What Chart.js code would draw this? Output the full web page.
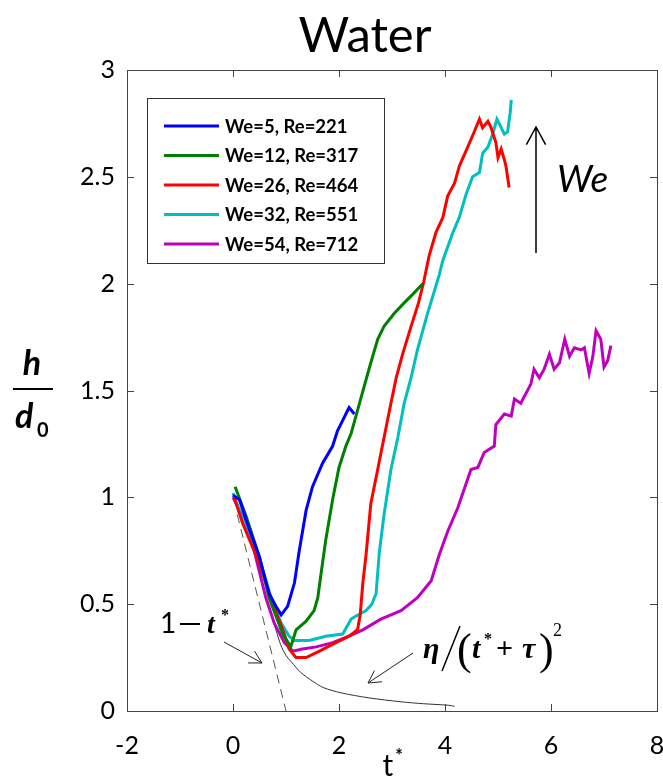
<!DOCTYPE html>
<html>
<head>
<meta charset="utf-8">
<script src="https://cdn.jsdelivr.net/npm/chart.js@4.4.1/dist/chart.umd.min.js"></script>
<style>
  html, body { margin: 0; padding: 0; background: #fff; }
</style>
</head>
<body>
<canvas id="c" width="663" height="777"></canvas>
<script>
// tick values
const xTicks = [-2, 0, 2, 4, 6, 8];
const yTicks = [0, 0.5, 1, 1.5, 2, 2.5, 3];

// legend labels
const labels = ['We=5, Re=221', 'We=12, Re=317', 'We=26, Re=464', 'We=32, Re=551', 'We=54, Re=712'];
const colors = ['#0000ff', '#008000', '#ff0000', '#00bfbf', '#bf00bf'];

// t* / h/d0
const tBlue = [0, 0.12, 0.31, 0.50, 0.68, 0.81, 0.91, 1.03, 1.16, 1.25, 1.38, 1.50, 1.69, 1.88, 1.97, 2.07, 2.19, 2.29];
const hBlue = [1.01, 0.99, 0.85, 0.72, 0.55, 0.49, 0.45, 0.49, 0.60, 0.75, 0.94, 1.05, 1.16, 1.24, 1.31, 1.36, 1.42, 1.39];

const tGreen = [0.04, 0.25, 0.5, 0.68, 0.94, 1.09, 1.19, 1.38, 1.53, 1.60, 1.66, 1.75, 1.88, 2.0, 2.13, 2.23, 2.32, 2.42, 2.60, 2.73, 2.85, 3.04, 3.23, 3.39, 3.58];
const hGreen = [1.05, 0.91, 0.72, 0.53, 0.36, 0.30, 0.38, 0.42, 0.47, 0.53, 0.64, 0.80, 0.99, 1.14, 1.24, 1.30, 1.38, 1.47, 1.63, 1.74, 1.80, 1.86, 1.91, 1.95, 2.00];

const tRed = [0.02, 0.18, 0.5, 0.75, 0.94, 1.06, 1.19, 1.38, 1.63, 1.94, 2.19, 2.35, 2.40, 2.45, 2.51, 2.60, 2.73, 2.85, 2.98, 3.08, 3.20, 3.36, 3.50, 3.60, 3.70, 3.83, 3.96, 4.05, 4.18, 4.27, 4.43, 4.55, 4.65, 4.71, 4.81, 4.87, 4.96, 5.0, 5.06, 5.12, 5.15, 5.21];
const hRed = [1.0, 0.88, 0.69, 0.50, 0.38, 0.29, 0.25, 0.25, 0.28, 0.32, 0.35, 0.38, 0.45, 0.60, 0.73, 0.97, 1.13, 1.28, 1.44, 1.56, 1.67, 1.80, 1.91, 2.01, 2.13, 2.24, 2.31, 2.41, 2.47, 2.55, 2.64, 2.71, 2.77, 2.73, 2.76, 2.73, 2.66, 2.59, 2.63, 2.58, 2.55, 2.45];

const tCyan = [0, 0.21, 0.40, 0.56, 0.72, 0.91, 1.06, 1.16, 1.44, 1.75, 2.07, 2.23, 2.29, 2.51, 2.62, 2.70, 2.76, 2.85, 2.98, 3.11, 3.23, 3.36, 3.48, 3.67, 3.89, 3.96, 4.15, 4.27, 4.40, 4.52, 4.65, 4.71, 4.81, 4.90, 4.98, 5.06, 5.12, 5.18, 5.23, 5.25];
const hCyan = [1.02, 0.88, 0.78, 0.66, 0.53, 0.41, 0.35, 0.33, 0.33, 0.35, 0.36, 0.43, 0.44, 0.47, 0.50, 0.55, 0.74, 0.92, 1.13, 1.28, 1.44, 1.56, 1.69, 1.86, 2.04, 2.11, 2.24, 2.31, 2.42, 2.50, 2.52, 2.61, 2.64, 2.70, 2.77, 2.73, 2.70, 2.71, 2.80, 2.86];

const tMag = [0, 0.3, 0.62, 0.78, 0.97, 1.13, 1.31, 1.57, 1.88, 2.19, 2.45, 2.79, 3.17, 3.48, 3.74, 3.89, 4.05, 4.24, 4.49, 4.62, 4.74, 4.93, 4.96, 5.12, 5.25, 5.31, 5.43, 5.62, 5.68, 5.78, 5.87, 5.97, 6.06, 6.16, 6.26, 6.35, 6.44, 6.57, 6.63, 6.72, 6.79, 6.85, 6.94, 7.0, 7.07, 7.13];
const hMag = [1.0, 0.85, 0.53, 0.41, 0.32, 0.28, 0.29, 0.30, 0.32, 0.35, 0.38, 0.43, 0.47, 0.53, 0.61, 0.73, 0.84, 0.95, 1.13, 1.14, 1.21, 1.24, 1.34, 1.39, 1.38, 1.46, 1.44, 1.53, 1.60, 1.56, 1.60, 1.67, 1.60, 1.63, 1.74, 1.66, 1.70, 1.69, 1.70, 1.58, 1.66, 1.78, 1.74, 1.61, 1.64, 1.71];

// thin black fit curve and dashed 1 - t* line
const tFit = [0.72, 0.81, 0.9, 1.0, 1.1, 1.28, 1.5, 1.7, 2.04, 2.55, 3.17, 3.6, 4.06, 4.18];
const hFit = [0.45, 0.38, 0.31, 0.26, 0.23, 0.18, 0.14, 0.11, 0.085, 0.062, 0.043, 0.034, 0.027, 0.022];
const tLin = [0.08, 1.0];
const hLin = [0.92, 0.0];

const pts = (t, h) => t.map((v, i) => ({ x: v, y: h[i] }));
const series = [pts(tBlue, hBlue), pts(tGreen, hGreen), pts(tRed, hRed), pts(tCyan, hCyan), pts(tMag, hMag)];

const datasets = series.map((d, i) => ({
  label: labels[i],
  data: d,
  borderColor: colors[i],
  borderWidth: 3,
  pointRadius: 0,
  showLine: true,
}));
datasets.push({ data: pts(tFit, hFit), borderColor: '#333', borderWidth: 1, pointRadius: 0, showLine: true, tension: 0.3 });
datasets.push({ data: pts(tLin, hLin), borderColor: '#555', borderWidth: 1, borderDash: [9, 6], pointRadius: 0, showLine: true });

const FONT = 'Lato, "Open Sans", sans-serif';
const SERIF = '"Liberation Serif", serif';

// frame, inward ticks, legend, text annotations
const overlay = {
  id: 'overlay',
  afterDraw(chart) {
    const ctx = chart.ctx;
    const { left, right, top, bottom } = chart.chartArea;
    const xs = chart.scales.x, ys = chart.scales.y;
    ctx.save();
    ctx.strokeStyle = '#444';
    ctx.lineWidth = 1;
    ctx.strokeRect(left + 0.5, top + 0.5, right - left, bottom - top);
    ctx.beginPath();
    xs.ticks.forEach(t => {
      const px = Math.round(xs.getPixelForValue(t.value)) + 0.5;
      ctx.moveTo(px, bottom); ctx.lineTo(px, bottom - 7);
      ctx.moveTo(px, top); ctx.lineTo(px, top + 7);
    });
    ys.ticks.forEach(t => {
      const py = Math.round(ys.getPixelForValue(t.value)) + 0.5;
      ctx.moveTo(left, py); ctx.lineTo(left + 7, py);
      ctx.moveTo(right, py); ctx.lineTo(right - 7, py);
    });
    ctx.stroke();

    // legend
    ctx.fillStyle = '#fff';
    ctx.fillRect(147, 98, 237, 165);
    ctx.strokeStyle = '#333';
    ctx.strokeRect(147.5, 98.5, 237, 165);
    ctx.font = 'bold 18.5px ' + FONT;
    ctx.textBaseline = 'middle';
    labels.forEach((lab, i) => {
      const y = 126 + i * 29.5;
      ctx.strokeStyle = colors[i];
      ctx.lineWidth = 3;
      ctx.beginPath(); ctx.moveTo(164, y); ctx.lineTo(219, y); ctx.stroke();
      ctx.fillStyle = '#000';
      ctx.fillText(lab, 225, y + 1);
    });

    // title
    ctx.fillStyle = '#000';
    ctx.textAlign = 'center';
    ctx.textBaseline = 'alphabetic';
    ctx.font = '49px ' + FONT;
    ctx.fillText('Water', 365, 52);

    // y label h / d0
    ctx.font = 'italic bold 34px ' + FONT;
    ctx.fillText('h', 32, 375);
    ctx.fillRect(13, 388, 40, 2);
    ctx.textAlign = 'left';
    ctx.fillText('d', 15, 428);
    ctx.font = 'bold 20px ' + FONT;
    ctx.fillText('0', 37, 437);

    // x label t*
    ctx.textAlign = 'center';
    ctx.font = '30px ' + FONT;
    ctx.fillText('t', 388, 776);
    ctx.font = 'bold 18px ' + FONT;
    ctx.fillText('*', 399, 762);

    // 1 - t*
    ctx.textAlign = 'left';
    ctx.font = '28px ' + FONT;
    ctx.fillText('1', 160, 633);
    ctx.fillRect(180, 623, 20, 2);
    ctx.font = 'italic bold 28px ' + SERIF;
    ctx.fillText('t', 207, 633);
    ctx.font = 'bold 16px ' + SERIF;
    ctx.fillText('*', 221, 620);

    // eta/(t*+tau)^2
    ctx.font = 'italic bold 30px ' + SERIF;
    ctx.fillText('\u03b7', 423, 658);
    ctx.lineWidth = 1.5;
    ctx.strokeStyle = '#000';
    ctx.beginPath(); ctx.moveTo(460, 626); ctx.lineTo(442, 671); ctx.stroke();
    ctx.font = '44px ' + SERIF;
    ctx.fillText('(', 457, 664);
    ctx.font = 'italic bold 30px ' + SERIF;
    ctx.fillText('t', 472, 658);
    ctx.font = 'bold 16px ' + SERIF;
    ctx.fillText('*', 484, 644);
    ctx.font = 'bold 30px ' + SERIF;
    ctx.fillText('+', 496, 658);
    ctx.font = 'italic bold 30px ' + SERIF;
    ctx.fillText('\u03c4', 522, 658);
    ctx.font = '44px ' + SERIF;
    ctx.fillText(')', 539, 664);
    ctx.font = '18px ' + SERIF;
    ctx.fillText('2', 553, 636);

    // We
    ctx.font = 'italic 37px ' + FONT;
    ctx.fillText('We', 557, 192);

    // arrows
    ctx.strokeStyle = '#222';
    ctx.lineWidth = 1;
    const arrow = (x0, y0, x1, y1, head) => {
      const a = Math.atan2(y1 - y0, x1 - x0);
      ctx.beginPath();
      ctx.moveTo(x0, y0); ctx.lineTo(x1, y1);
      ctx.moveTo(x1 - head * Math.cos(a - 0.5), y1 - head * Math.sin(a - 0.5));
      ctx.lineTo(x1, y1);
      ctx.lineTo(x1 - head * Math.cos(a + 0.5), y1 - head * Math.sin(a + 0.5));
      ctx.stroke();
    };
    arrow(224, 642, 262, 663, 14);
    arrow(413, 653, 368, 683, 14);
    ctx.lineWidth = 1.5;
    ctx.strokeStyle = '#000';
    arrow(536, 253, 536, 127, 20);
    ctx.restore();
  }
};

new Chart(document.getElementById('c'), {
  type: 'scatter',
  data: { datasets },
  options: {
    responsive: false,
    animation: false,
    layout: { padding: { top: 70, right: 6, left: 0, bottom: 0 } },
    plugins: { legend: { display: false }, tooltip: { enabled: false } },
    scales: {
      x: {
        type: 'linear', min: -2, max: 8,
        afterBuildTicks: s => { s.ticks = xTicks.map(v => ({ value: v })); },
        afterFit: s => { s.height = 66; s.paddingLeft = 0; s.paddingRight = 0; },
        grid: { display: false },
        border: { display: false },
        ticks: { color: '#000', padding: 12, maxRotation: 0, callback: v => String(v), font: { family: FONT, size: 25 } }
      },
      y: {
        type: 'linear', min: 0, max: 3,
        afterBuildTicks: s => { s.ticks = yTicks.map(v => ({ value: v })); },
        afterFit: s => { s.width = 127; s.paddingTop = 0; s.paddingBottom = 0; },
        grid: { display: false },
        border: { display: false },
        ticks: { color: '#000', padding: 4, callback: v => String(v), font: { family: FONT, size: 25 } }
      }
    }
  },
  plugins: [overlay]
});
</script>
</body>
</html>
